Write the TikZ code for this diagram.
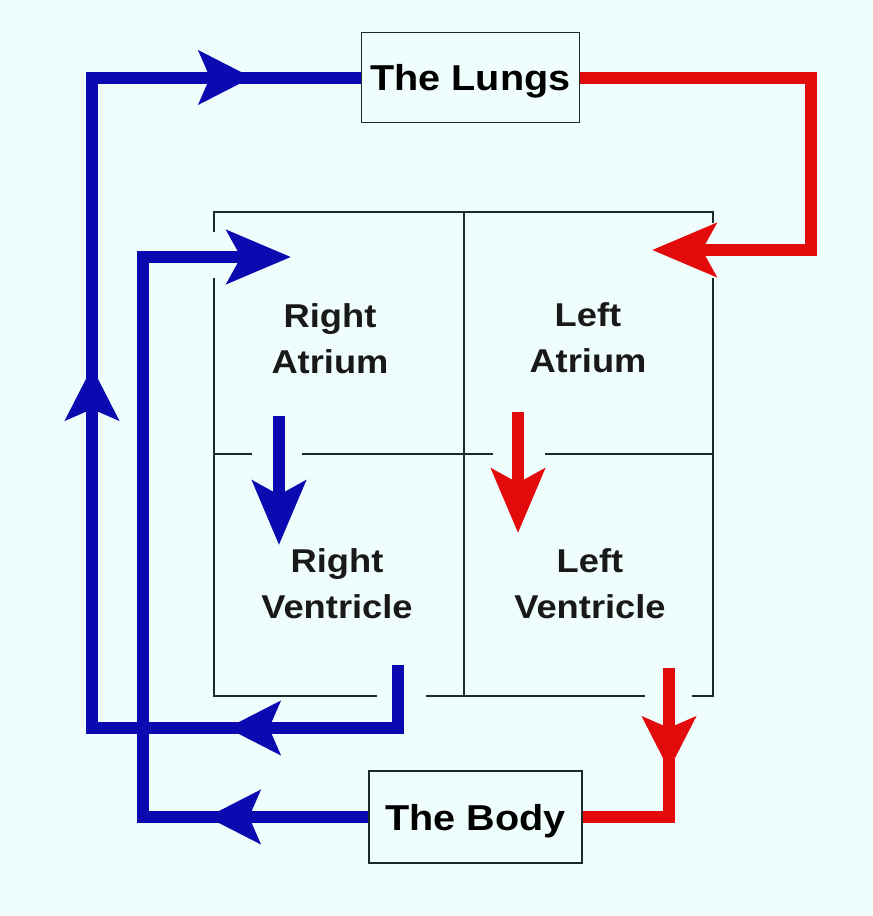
\documentclass[tikz,border=0pt]{standalone}
\usepackage{fontspec}
\setmainfont{Liberation Sans}[FakeStretch=1.1]
\usetikzlibrary{arrows.meta}
\definecolor{bgc}{HTML}{F0FDFD}
\definecolor{venous}{HTML}{0A0AB0}
\definecolor{arterial}{HTML}{E20A0A}
\definecolor{wall}{HTML}{1E2A2A}
\tikzset{
  flow/.style={line width=12bp, line join=miter},
  headtip/.style={-{Stealth[length=53bp,width=53bp,inset=11bp]}},
  longhead/.style={-{Stealth[length=64bp,width=53bp,inset=14bp]}},
  septum/.style={wall, line width=1.5bp},
  organ/.style={draw=wall, line width=1.5bp, fill=bgc, inner sep=0pt, minimum width=218bp, minimum height=90bp, text depth=0pt, font=\fontsize{36bp}{40bp}\selectfont\bfseries},
  chamber/.style={align=center, anchor=north, inner sep=0pt, text=black!90, font=\fontsize{33bp}{46bp}\selectfont\bfseries}
}
\begin{document}
\begin{tikzpicture}[x=1bp,y=-1bp]
\fill[bgc] (0,0) rectangle (873,916);
\draw[septum] (214,232) -- (214,212) -- (713,212) -- (713,223);
\draw[septum] (377,696) -- (214,696) -- (214,278);
\draw[septum] (713,278) -- (713,696) -- (692,696);
\draw[septum] (426,696) -- (645,696);
\draw[septum] (464,212) -- (464,696);
\draw[septum] (214,454) -- (252,454) (302,454) -- (493,454) (545,454) -- (713,454);
\node[organ] (lungs) at (470.5,77.5) {The Lungs};
\node[organ, minimum width=213bp, minimum height=92bp] (body) at (475.5,817) {The Body};
\node[chamber] (ra) at (330,303) {Right\\Atrium};
\node[chamber] (la) at (588,302) {Left\\Atrium};
\node[chamber] (rv) at (337,548) {Right\\Ventricle};
\node[chamber] (lv) at (590,548) {Left\\Ventricle};
\coordinate (rvout) at (398,665);
\coordinate (lvout) at (669,668);
\coordinate (rain) at (291,257);
\coordinate (lain) at (652,250);
\coordinate (ravalve) at (279,416);
\coordinate (rvin) at (279,545);
\coordinate (lavalve) at (518,412);
\coordinate (lvin) at (518,533);
\draw[flow, venous] (rvout) |- (92,728) |- (lungs.west);
\draw[flow, venous, headtip] (290,728) -- (227,728);
\draw[flow, venous, headtip] (92,430) -- (92,367);
\draw[flow, venous, headtip] (190,77.5) -- (252,77.5);
\draw[flow, venous, longhead] (body.west) -| (143,257) -- (rain);
\draw[flow, venous, headtip] (270,817) -- (207,817);
\draw[flow, arterial, longhead] (lungs.east) -| (811,250) -- (lain);
\draw[flow, arterial] (lvout) |- (body.east);
\draw[flow, arterial, headtip] (669,710) -- (669,770);
\draw[flow, venous, longhead] (ravalve) -- (rvin);
\draw[flow, arterial, longhead] (lavalve) -- (lvin);
\end{tikzpicture}
\end{document}
